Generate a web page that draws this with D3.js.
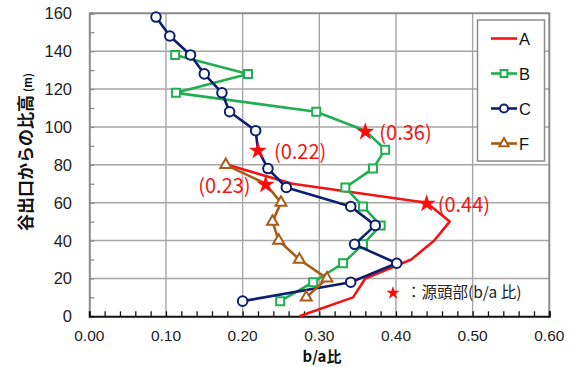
<!DOCTYPE html>
<html>
<head>
<meta charset="utf-8">
<script src="https://cdn.jsdelivr.net/npm/d3@7"></script>
<style>
  html, body { margin: 0; padding: 0; background: #fff; }
  svg { display: block; }
</style>
</head>
<body>
<svg id="chart" width="571" height="367"></svg>
<script>
// Height above valley outlet (m) and b/a ratio for each profile
const heightsA = [80, 70, 60, 50, 40, 30, 20, 10, 0];
const valuesA  = [0.18, 0.265, 0.44, 0.47, 0.45, 0.42, 0.36, 0.344, 0.274];

const heightsB = [138, 128, 118, 108, 98, 88, 78, 68, 58, 48, 38, 28, 18, 8];
const valuesB  = [0.112, 0.207, 0.113, 0.296, 0.36, 0.386, 0.37, 0.334, 0.357, 0.38, 0.357, 0.331, 0.292, 0.249];

const heightsC = [158, 148, 138, 128, 118, 108, 98, 88, 78, 68, 58, 48, 38, 28, 18, 8];
const valuesC  = [0.087, 0.105, 0.132, 0.15, 0.173, 0.183, 0.217, 0.22, 0.233, 0.257, 0.341, 0.373, 0.346, 0.401, 0.341, 0.2];

const heightsF = [80, 70, 60, 50, 40, 30, 20, 10];
const valuesF  = [0.178, 0.23, 0.25, 0.239, 0.247, 0.274, 0.31, 0.283];

// Source-head points (b/a ratio) marked with a star on each profile
const starSeries  = ["B", "C", "F", "A"];
const starHeights = [98, 88, 70, 60];
const starValues  = [0.36, 0.22, 0.23, 0.44];

const xTicks = [0, 0.1, 0.2, 0.3, 0.4, 0.5, 0.6];
const yTicks = [0, 20, 40, 60, 80, 100, 120, 140, 160];

const xTitle = "b/a比";
const yTitle = "谷出口からの比高";
const yUnit = "(m)";
const starNote = "：源頭部(b/a 比)";

// ---- styling / layout ----
const colors = { A: "#f01414", B: "#1fae52", C: "#0c1e6e", F: "#a85c16" };
const markers = { A: null, B: "square", C: "circle", F: "triangle" };
const labelPlace = {           // offsets of the star value labels
  A: { dx: 11, dy: 9, anchor: "start" },
  B: { dx: 14, dy: 9, anchor: "start" },
  C: { dx: 16, dy: 9, anchor: "start" },
  F: { dx: -15, dy: 9, anchor: "end" }
};
const tickFont = "'Liberation Sans', Arial, sans-serif";
const jpFont = "'Noto Sans CJK JP', 'Noto Sans', sans-serif";

const series = [
  { name: "A", h: heightsA, v: valuesA },
  { name: "B", h: heightsB, v: valuesB },
  { name: "C", h: heightsC, v: valuesC },
  { name: "F", h: heightsF, v: valuesF }
];

const svg = d3.select("#chart");
const x = d3.scaleLinear().domain([0, 0.6]).range([89.3, 549.3]);
const y = d3.scaleLinear().domain([0, 160]).range([316.3, 13.3]);

// gridlines
const grid = svg.append("g");
grid.selectAll("line.v").data(xTicks.slice(1, -1)).join("line")
  .attr("x1", d => x(d)).attr("x2", d => x(d))
  .attr("y1", y(160)).attr("y2", y(0))
  .attr("stroke", "#a6a6a6").attr("stroke-width", 1.4);
grid.selectAll("line.h").data(yTicks.slice(1, -1)).join("line")
  .attr("x1", x(0)).attr("x2", x(0.6))
  .attr("y1", d => y(d)).attr("y2", d => y(d))
  .attr("stroke", "#a6a6a6").attr("stroke-width", 1.4);

// top and right frame
svg.append("path")
  .attr("d", `M${x(0)},${y(160)}H${x(0.6)}V${y(0)}`)
  .attr("fill", "none").attr("stroke", "#8a8a8a").attr("stroke-width", 2);

// y axis (left): minor ticks every 10 m pointing inward
const yAxis = svg.append("g").attr("transform", `translate(${x(0)},0)`)
  .call(d3.axisRight(y).tickValues(d3.range(0, 161, 10)).tickSize(5).tickFormat(""));
yAxis.select(".domain").attr("stroke", "#8a8a8a").attr("stroke-width", 2);
yAxis.selectAll(".tick line").attr("stroke", "#8a8a8a").attr("stroke-width", 1.3);
svg.append("g").selectAll("text").data(yTicks).join("text")
  .attr("x", 72).attr("y", d => y(d) + 6)
  .attr("text-anchor", "end")
  .attr("font-family", tickFont).attr("font-size", 16.5).attr("fill", "#222")
  .text(d => d);

// x axis (bottom): minor ticks every 0.02 pointing inward
const xAxis = svg.append("g").attr("transform", `translate(0,${y(0)})`)
  .call(d3.axisTop(x).tickValues(d3.range(0, 0.6001, 0.02)).tickSize(5).tickFormat(""));
xAxis.select(".domain").attr("stroke", "#111").attr("stroke-width", 2);
xAxis.selectAll(".tick line").attr("stroke", "#111").attr("stroke-width", 1.3);
svg.append("g").selectAll("text").data(xTicks).join("text")
  .attr("x", d => x(d)).attr("y", 341)
  .attr("text-anchor", "middle")
  .attr("font-family", tickFont).attr("font-size", 15.5).attr("fill", "#222")
  .text(d => d3.format(".2f")(d));

// axis titles
svg.append("text")
  .attr("x", 322).attr("y", 361.5)
  .attr("text-anchor", "middle")
  .attr("font-family", jpFont).attr("font-weight", "bold").attr("font-size", 15)
  .attr("fill", "#111").text(xTitle);
const yt = svg.append("text")
  .attr("transform", "translate(32,152) rotate(-90)")
  .attr("text-anchor", "middle")
  .attr("font-family", jpFont).attr("font-weight", "bold").attr("font-size", 17)
  .attr("fill", "#111");
yt.append("tspan").text(yTitle);
yt.append("tspan").attr("font-size", 11).attr("dx", 3).text(yUnit);

// markers
const symbolOf = { square: d3.symbolSquare, circle: d3.symbolCircle, triangle: d3.symbolTriangle };
const symbolSize = { square: 64, circle: 72, triangle: 52 };
function drawMarker(g, kind, color, px, py, scale) {
  const s = scale || 1;
  g.append("path")
    .attr("d", d3.symbol(symbolOf[kind], symbolSize[kind] * s * s)())
    .attr("transform", `translate(${px},${py})`)
    .attr("fill", "#fff").attr("stroke", color).attr("stroke-width", 2);
}

const line = d3.line().x(d => x(d[1])).y(d => y(d[0]));
const plot = svg.append("g");
series.forEach(s => {
  const pts = s.h.map((h, i) => [h, s.v[i]]);
  plot.append("path")
    .attr("d", line(pts))
    .attr("fill", "none").attr("stroke", colors[s.name])
    .attr("stroke-width", 2.6).attr("stroke-linejoin", "round");
  if (markers[s.name]) {
    const k = starSeries.indexOf(s.name);
    pts.forEach(p => {
      if (k >= 0 && p[0] === starHeights[k]) return; // star drawn here instead
      drawMarker(plot, markers[s.name], colors[s.name], x(p[1]), y(p[0]));
    });
  }
});

// stars with value labels
const starSym = d3.symbol(d3.symbolStar, 101)();
starSeries.forEach((name, i) => {
  const px = x(starValues[i]), py = y(starHeights[i]);
  plot.append("path").attr("d", starSym)
    .attr("transform", `translate(${px},${py + 1})`)
    .attr("fill", "#ff0a0a");
  const lp = labelPlace[name];
  plot.append("text")
    .attr("x", px + lp.dx).attr("y", py + lp.dy)
    .attr("text-anchor", lp.anchor)
    .attr("font-family", jpFont).attr("font-size", 20).attr("fill", "#f01414")
    .text(`(${d3.format(".2f")(starValues[i])})`);
});

// star note
svg.append("path").attr("d", d3.symbol(d3.symbolStar, 55)())
  .attr("transform", "translate(393,293)").attr("fill", "#ff0a0a");
svg.append("text").attr("x", 406).attr("y", 298)
  .attr("font-family", jpFont).attr("font-size", 15.5).attr("fill", "#222")
  .text(starNote);

// legend
const lg = svg.append("g");
lg.append("rect").attr("x", 477.5).attr("y", 20).attr("width", 67).attr("height", 141)
  .attr("fill", "#fff").attr("stroke", "#8a8a8a").attr("stroke-width", 1.5);
series.forEach((s, i) => {
  const ly = 38.5 + i * 35;
  lg.append("line").attr("x1", 491).attr("x2", 517).attr("y1", ly).attr("y2", ly)
    .attr("stroke", colors[s.name]).attr("stroke-width", 2.6);
  if (markers[s.name]) drawMarker(lg, markers[s.name], colors[s.name], 504, ly, 0.85);
  lg.append("text").attr("x", 519).attr("y", ly + 6)
    .attr("font-family", tickFont).attr("font-size", 16.5).attr("fill", "#111")
    .text(s.name);
});
</script>
</body>
</html>
